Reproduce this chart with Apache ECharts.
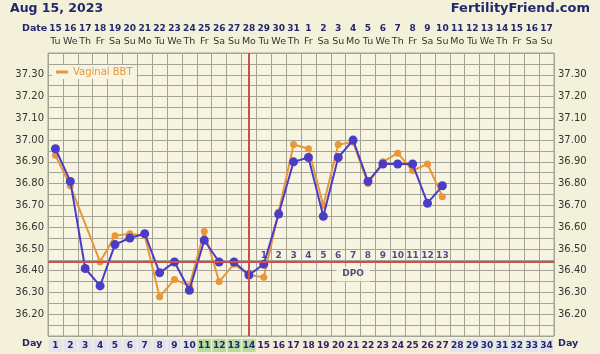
<!DOCTYPE html>
<html><head><meta charset="utf-8">
<script src="https://cdn.jsdelivr.net/npm/echarts@6/dist/echarts.min.js"></script>
<style>html,body{margin:0;padding:0;background:#F4F1DA;}#c{width:600px;height:354px;}</style>
</head><body><div id="c"></div>
<script>
var days = [];
for (var i = 1; i <= 34; i++) days.push(String(i));
var dates = ['15','16','17','18','19','20','21','22','23','24','25','26','27','28','29','30','31','1','2','3','4','5','6','7','8','9','10','11','12','13','14','15','16','17'];
var weekdays = ['Tu','We','Th','Fr','Sa','Su','Mo','Tu','We','Th','Fr','Sa','Su','Mo','Tu','We','Th','Fr','Sa','Su','Mo','Tu','We','Th','Fr','Sa','Su','Mo','Tu','We','Th','Fr','Sa','Su'];
var temps = [36.96,36.81,36.41,36.33,36.52,36.55,36.57,36.39,36.44,36.31,36.54,36.44,36.44,36.38,36.43,36.66,36.90,36.92,36.65,36.92,37.00,36.81,36.89,36.89,36.89,36.71,36.79];
var vaginal = [36.93,36.79,null,36.44,36.56,36.57,36.56,36.28,36.36,36.33,36.58,36.35,36.43,36.38,36.37,36.67,36.98,36.96,36.70,36.98,36.99,36.80,36.90,36.94,36.86,36.89,36.74];
var dpoDays = ['15','16','17','18','19','20','21','22','23','24','25','26','27'];
var dpoLabels = ['1','2','3','4','5','6','7','8','9','10','11','12','13'];
var coverline = 36.44;
var ovulationDay = '14';
// day box colours by phase
var phaseOfDay = ['a','a','a','a','a','a','a','a','a','a','g','g','g','g','p','p','p','p','p','p','p','p','p','p','p','p','p','b','b','b','b','b','b','b'];

var chart = echarts.init(document.getElementById('c'));
var navy = '#23276B';
var font = 'DejaVu Sans';
var rich = {};
var bg = {a:'#E3E3EE', g:'#B7DC9C', p:'#F6E9D6', b:'#E1E3EF'};
Object.keys(bg).forEach(function(k){
  rich[k] = {backgroundColor:bg[k], width:13.6, height:13, lineHeight:13, align:'center', color:navy, fontWeight:'bold', fontSize:9, fontFamily:font};
});
var yFmt = function(v){ var r = Math.round(v*100); return (r % 10 === 0) ? (r/100).toFixed(2) : ''; };
var axisY = function(pos){
  return {type:'value', min:36.10, max:37.40, interval:0.05, position:pos,
    axisLine:{show:false}, axisTick:{show:false},
    axisLabel:{formatter:yFmt, color:'#333', fontSize:10, fontFamily:font, margin:4, showMinLabel:false, showMaxLabel:false},
    splitLine:{show:pos==='left', lineStyle:{color:'#A3A396', width:1}}};
};
chart.setOption({
  animation:false,
  backgroundColor:'#F4F1DA',
  grid:{left:48, right:46, top:53, bottom:18, show:true, backgroundColor:'#F7F5E1', borderColor:'#A3A396', borderWidth:1},
  legend:{data:['Vaginal BBT'], left:52, top:65, itemWidth:12, itemHeight:3, icon:'rect',
    backgroundColor:'#F8F4E2', padding:[2,4], itemGap:4,
    textStyle:{color:'#E8963A', fontSize:10, fontFamily:font}},
  xAxis:[
    {type:'category', data:days, position:'bottom', boundaryGap:true,
      axisLine:{show:false}, axisTick:{show:false},
      splitLine:{show:true, interval:0, lineStyle:{color:'#A3A396', width:1}},
      axisLabel:{interval:0, margin:3, rich:rich, formatter:function(v, idx){ return '{' + phaseOfDay[idx] + '|' + v + '}'; }}},
    {type:'category', data:dates, position:'top', gridIndex:0,
      axisLine:{show:false}, axisTick:{show:false},
      axisLabel:{interval:0, margin:20, color:navy, fontWeight:'bold', fontSize:9, fontFamily:font}},
    {type:'category', data:weekdays, position:'top', gridIndex:0, offset:0,
      axisLine:{show:false}, axisTick:{show:false},
      axisLabel:{interval:0, margin:6, color:'#333', fontSize:9.5, fontFamily:font}}
  ],
  yAxis:[axisY('left'), axisY('right')],
  graphic:[
    {type:'text', left:10, top:2, style:{text:'Aug 15, 2023', fill:navy, font:'bold 12.5px "DejaVu Sans"'}},
    {type:'text', right:10, top:2, style:{text:'FertilityFriend.com', fill:navy, font:'bold 13px "DejaVu Sans"'}},
    {type:'text', left:22, top:24, style:{text:'Date', fill:navy, font:'bold 9.5px "DejaVu Sans"'}},
    {type:'text', left:22, top:339, style:{text:'Day', fill:navy, font:'bold 9.5px "DejaVu Sans"'}},
    {type:'text', left:558, top:339, style:{text:'Day', fill:navy, font:'bold 9.5px "DejaVu Sans"'}}
  ],
  series:[
    {name:'Vaginal BBT', type:'line', data:vaginal, connectNulls:true, symbol:'circle', symbolSize:7,
      itemStyle:{color:'#E8963A'}, lineStyle:{color:'#E8963A', width:2}, z:3},
    {name:'BBT', type:'line', data:temps, symbol:'circle', symbolSize:9,
      itemStyle:{color:'#4A3CC4'}, lineStyle:{color:'#4A3CC4', width:2}, z:4,
      markLine:{silent:true, symbol:'none', label:{show:false},
        lineStyle:{color:'#C9514E', width:2, type:'solid'},
        data:[{yAxis:coverline}, {xAxis:ovulationDay}]}},
    {name:'DPO', type:'scatter', symbolSize:0, z:5,
      data:dpoDays.map(function(d,i){ return {value:[d, 36.47], name:dpoLabels[i]}; }),
      label:{show:true, position:'inside', formatter:function(p){return p.name;}, color:navy, fontWeight:'bold', fontSize:9, fontFamily:font}},
    {name:'DPOtext', type:'scatter', symbolSize:0, z:5,
      data:[{value:['21', 36.385], name:'DPO'}],
      label:{show:true, position:'inside', formatter:'DPO', color:navy, fontWeight:'bold', fontSize:9, fontFamily:font,
        backgroundColor:'#F7F5E1', padding:[3,6]}}
  ]
});
</script></body></html>
